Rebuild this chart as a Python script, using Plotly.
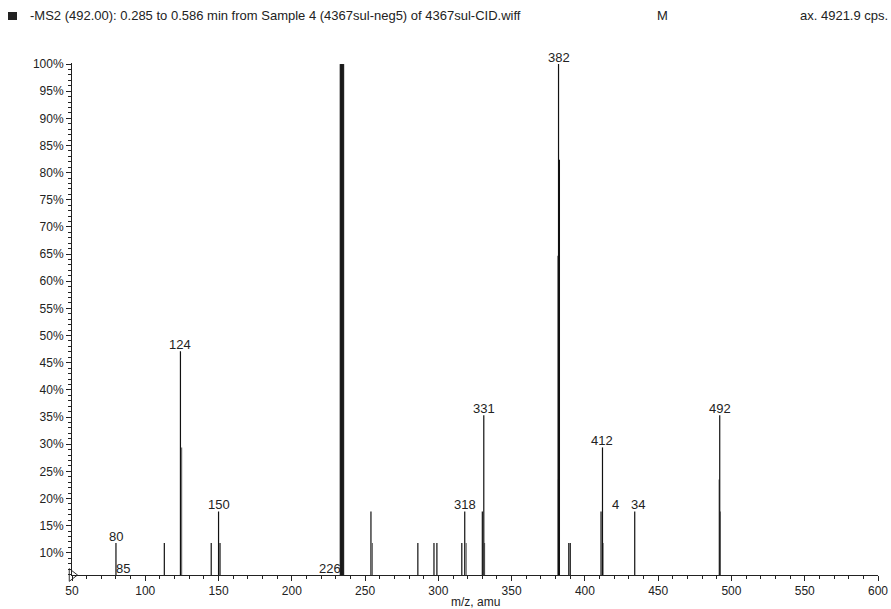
import plotly.graph_objects as go

# ---- data ----
black_mz  = [80, 113, 124, 145, 150, 151, 254, 286, 297, 299, 316, 318, 330, 331,
             382, 382.6, 389, 390, 411, 412, 434, 492]
black_int = [11.8, 11.8, 47.1, 11.8, 17.6, 11.8, 17.6, 11.8, 11.8, 11.8, 11.8, 17.6, 17.6, 35.3,
             100, 82.4, 11.8, 11.8, 17.6, 29.4, 17.6, 35.3]
gray_mz   = [124.8, 255, 319, 331.5, 381.5, 381.8, 412.4, 491.6, 492.4]
gray_int  = [29.4, 11.8, 11.8, 11.8, 64.7, 23.5, 11.8, 23.5, 17.6]
dense_mz  = [233.0, 233.3, 233.6, 233.9, 234.2, 234.5, 234.8, 235.1, 235.4]
dense_int = [100, 100, 100, 100, 100, 100, 100, 100, 100]

label_mz   = [80, 85, 124, 150, 226, 318, 331, 382, 412, 421, 436.5, 492]
label_int  = [11.8, 5.9, 47.1, 17.6, 5.9, 17.6, 35.3, 100, 29.4, 17.6, 17.6, 35.3]
label_text = ["80", "85", "124", "150", "226", "318", "331", "382", "412", "4", "34", "492"]

y_ticks = [10, 15, 20, 25, 30, 35, 40, 45, 50, 55, 60, 65, 70, 75, 80, 85, 90, 95, 100]
y_tick_text = ["10%", "15%", "20%", "25%", "30%", "35%", "40%", "45%", "50%", "55%",
               "60%", "65%", "70%", "75%", "80%", "85%", "90%", "95%", "100%"]
x_ticks = [50, 100, 150, 200, 250, 300, 350, 400, 450, 500, 550, 600]

TITLE = "-MS2 (492.00): 0.285 to 0.586 min from Sample 4 (4367sul-neg5) of 4367sul-CID.wiff"
FONT = "Liberation Sans, Arial, Helvetica, sans-serif"


def sticks(xs, ys):
    X, Y = [], []
    for x, y in zip(xs, ys):
        X += [x, x, None]
        Y += [0, y, None]
    return X, Y


fig = go.Figure()
for xs, ys, col, w in [(dense_mz, dense_int, "#1a1a1a", 1.0),
                       (gray_mz, gray_int, "#707070", 1.2),
                       (black_mz, black_int, "#111111", 1.2)]:
    X, Y = sticks(xs, ys)
    fig.add_trace(go.Scatter(x=X, y=Y, mode="lines", line=dict(color=col, width=w),
                             hoverinfo="skip", showlegend=False))

# origin marker
fig.add_trace(go.Scatter(x=[x_ticks[0]], y=[5.9], mode="markers", cliponaxis=False,
                         marker=dict(symbol="triangle-right-open", size=11,
                                     color="#333", line=dict(width=1, color="#333")),
                         showlegend=False, hoverinfo="skip"))

for x, y, t in zip(label_mz, label_int, label_text):
    fig.add_annotation(x=x, y=y, text=t, showarrow=False, yanchor="bottom", yshift=-3,
                       font=dict(family=FONT, size=13, color="#222"))

fig.add_annotation(xref="paper", yref="paper", x=0.5, y=-0.0527, text="m/z, amu",
                   showarrow=False, yanchor="middle", font=dict(family=FONT, size=12, color="#222"))

# header
fig.add_shape(type="rect", xref="paper", yref="paper", x0=-0.0794, x1=-0.0682,
              y0=1.084, y1=1.0996, fillcolor="#222", line=dict(width=0))
fig.add_annotation(xref="paper", yref="paper", x=-0.0546, y=1.092, text=TITLE,
                   showarrow=False, xanchor="left", yanchor="middle",
                   font=dict(family=FONT, size=13, color="#222"))
fig.add_annotation(xref="paper", yref="paper", x=0.733, y=1.092, text="M",
                   showarrow=False, xanchor="center", yanchor="middle",
                   font=dict(family=FONT, size=13, color="#222"))
fig.add_annotation(xref="paper", yref="paper", x=1.0149, y=1.092, text="ax. 4921.9 cps.",
                   showarrow=False, xanchor="right", yanchor="middle",
                   font=dict(family=FONT, size=13, color="#222"))

fig.update_layout(
    width=891, height=609,
    margin=dict(l=72, r=13, t=63, b=34),
    plot_bgcolor="white", paper_bgcolor="white",
    font=dict(family=FONT, size=12, color="#222"),
    showlegend=False,
)
fig.update_xaxes(range=[50, 600], tickvals=x_ticks, ticks="outside", ticklen=5,
                 tickcolor="#222", showline=True, linecolor="#222", linewidth=1,
                 showgrid=False, zeroline=False, automargin=False,
                 minor=dict(dtick=10, ticks="outside", ticklen=3, tickcolor="#222", showgrid=False),
                 tickfont=dict(family=FONT, size=12, color="#222"))
fig.update_yaxes(range=[5.9, 100.2], tickvals=y_ticks, ticktext=y_tick_text, ticks="outside",
                 ticklen=5, tickcolor="#222", showline=True, linecolor="#222", linewidth=1,
                 showgrid=False, zeroline=False, automargin=False,
                 minor=dict(dtick=1, ticks="outside", ticklen=3, tickcolor="#222", showgrid=False),
                 tickfont=dict(family=FONT, size=12, color="#222"))

fig.write_html("out.html", config={"displayModeBar": False},
               post_script="document.body.style.margin='0';document.body.style.overflow='hidden';")
